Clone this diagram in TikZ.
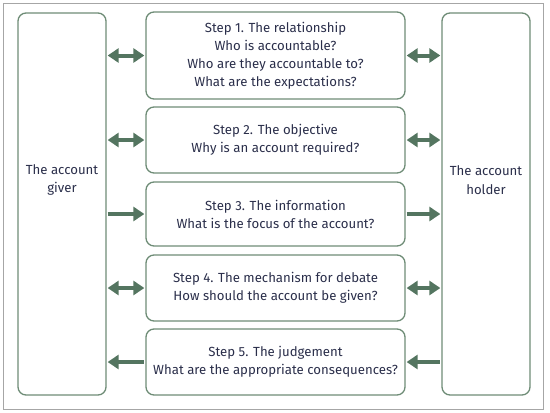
\documentclass[tikz,border=0pt]{standalone}
\usepackage{fontspec}
\setmainfont{Fira Sans}
\usetikzlibrary{arrows.meta}
\definecolor{boxgreen}{HTML}{6E8C76}
\definecolor{arrowgreen}{HTML}{547560}
\definecolor{textnavy}{HTML}{2A2E4A}
\definecolor{framegray}{HTML}{A6A6A6}
\begin{document}
\begin{tikzpicture}[x=1pt, y=-1pt,
		party/.style={draw=boxgreen, line width=1.3pt, rounded corners=8pt, minimum width=88pt, minimum height=382pt},
		partytext/.style={text=textnavy, align=center, font=\fontsize{13.2}{18.5}\selectfont},
		stepbox/.style={draw=boxgreen, line width=1.3pt, rounded corners=8pt, minimum width=259pt, text=textnavy, align=center, font=\fontsize{13.2}{18}\selectfont},
		flow/.style={draw=arrowgreen, line width=4pt, shorten <=1pt, shorten >=1pt},
		>={Triangle[length=11pt, width=14pt]}]
		\useasboundingbox (0,0) rectangle (550,413);
		%outer frame
		\draw[framegray, line width=1pt] (3,3) rectangle (543,409);
		
		%the two parties
		\node (giver) at (62, 204) [party]{};
		\node (holder) at (486, 204) [party]{};
		\node (givertext) at (62, 180) [partytext]{The account\\giver};
		\node (holdertext) at (486, 180) [partytext]{The account\\holder};
		
		%steps
		\node (s1) at (275.5, 55.5) [stepbox, minimum height=87pt]{Step 1. The relationship\\Who is accountable?\\Who are they accountable to?\\What are the expectations?};
		\node (s2) at (275.5, 140) [stepbox, minimum height=66pt]{Step 2. The objective\\Why is an account required?};
		\node (s3) at (275.5, 214) [stepbox, minimum height=64pt]{Step 3. The information\\What is the focus of the account?};
		\node (s4) at (275.5, 288) [stepbox, minimum height=66pt]{Step 4. The mechanism for debate\\How should the account be given?};
		\node (s5) at (275.5, 362) [stepbox, minimum height=66pt]{Step 5. The judgement\\What are the appropriate consequences?};
		
		%arrows
		\draw[flow, <->] (s1.west -| giver.east) -- (s1.west);
		\draw[flow, <->] (s1.east) -- (s1.east -| holder.west);
		\draw[flow, <->] (s2.west -| giver.east) -- (s2.west);
		\draw[flow, <->] (s2.east) -- (s2.east -| holder.west);
		\draw[flow, ->] (s3.west -| giver.east) -- (s3.west);
		\draw[flow, ->] (s3.east) -- (s3.east -| holder.west);
		\draw[flow, <->] (s4.west -| giver.east) -- (s4.west);
		\draw[flow, <->] (s4.east) -- (s4.east -| holder.west);
		\draw[flow, <-] (s5.west -| giver.east) -- (s5.west);
		\draw[flow, <-] (s5.east) -- (s5.east -| holder.west);
		\end{tikzpicture}
\end{document}
